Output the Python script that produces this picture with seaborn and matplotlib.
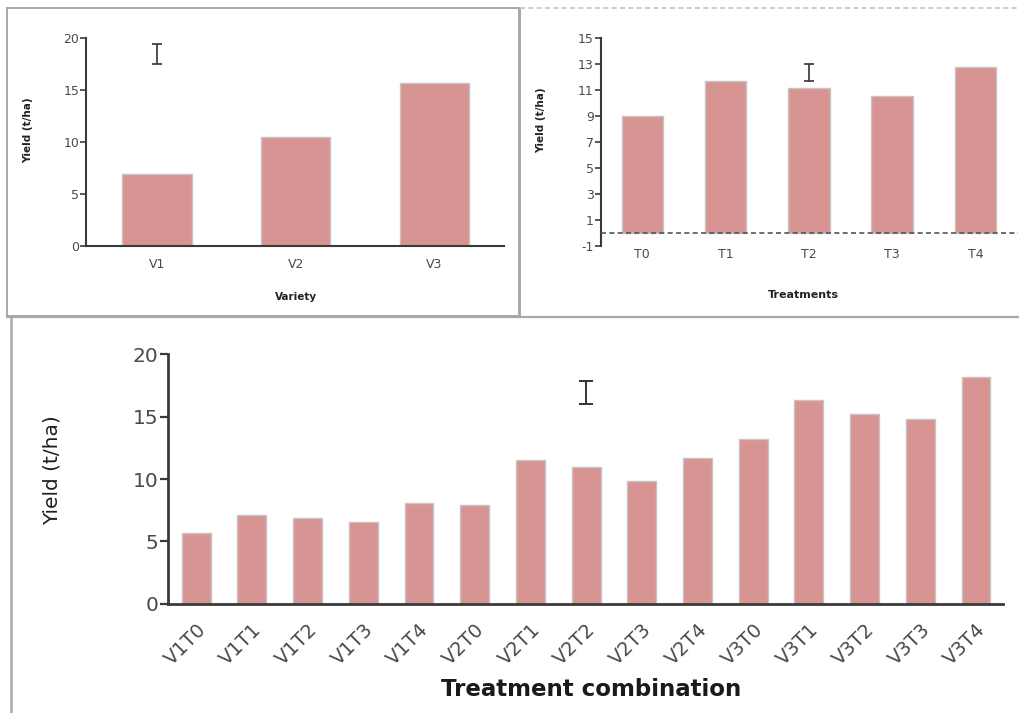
import matplotlib
matplotlib.use("Agg")
import matplotlib.pyplot as plt
from matplotlib.patches import Rectangle
from matplotlib.lines import Line2D
import seaborn as sns
import pandas as pd

# ---- data -------------------------------------------------------------
varieties = ["V1", "V2", "V3"]
variety_yield = [6.9, 10.45, 15.6]
variety_lsd_pos, variety_lsd_mid, variety_lsd_half = 0, 18.43, 0.93

treatments = ["T0", "T1", "T2", "T3", "T4"]
treatment_yield = [9.0, 11.7, 11.1, 10.5, 12.75]
treatment_lsd_pos, treatment_lsd_mid, treatment_lsd_half = 2, 12.31, 0.64

combos = ["V1T0", "V1T1", "V1T2", "V1T3", "V1T4",
          "V2T0", "V2T1", "V2T2", "V2T3", "V2T4",
          "V3T0", "V3T1", "V3T2", "V3T3", "V3T4"]
combo_yield = [5.7, 7.1, 6.9, 6.55, 8.1,
               7.9, 11.55, 10.95, 9.8, 11.7,
               13.2, 16.3, 15.25, 14.8, 18.2]
combo_lsd_pos, combo_lsd_mid, combo_lsd_half = 7, 16.95, 0.91

variety_ticks = [0, 5, 10, 15, 20]
treatment_ticks = [-1, 1, 3, 5, 7, 9, 11, 13, 15]
combo_ticks = [0, 5, 10, 15, 20]

# ---- style ------------------------------------------------------------
sns.set_theme(style="white")
plt.rcParams["font.family"] = ["DejaVu Sans"]
plt.rcParams["axes.unicode_minus"] = False

BAR = "#d89393"
EDGE = "#c9c3c3"
SPINE = "#3a3a3a"
TICKTXT = "#4a4a4a"
FRAME = "#a8a8a8"

W, H = 1019, 713
fig = plt.figure(figsize=(W / 100, H / 100), dpi=100)


def px_axes(x0, y_top, x1, y_bot):
    return fig.add_axes([x0 / W, 1 - y_bot / H, (x1 - x0) / W, (y_bot - y_top) / H])


def style_axes(ax, ticksize, ticklen, spine_w):
    for s in ("top", "right"):
        ax.spines[s].set_visible(False)
    for s in ("left", "bottom"):
        ax.spines[s].set_color(SPINE)
        ax.spines[s].set_linewidth(spine_w)
    ax.tick_params(axis="y", left=True, length=ticklen, width=spine_w * 0.8,
                   color=SPINE, labelsize=ticksize, labelcolor=TICKTXT, pad=1)
    ax.tick_params(axis="x", bottom=False, length=0, labelsize=ticksize,
                   labelcolor=TICKTXT)
    ax.set_xlabel("")
    ax.set_ylabel("")
    ax.set_facecolor("white")


# ---- panel frames -----------------------------------------------------
frame_kw = dict(transform=fig.transFigure, fill=False, lw=1.4, ec=FRAME, zorder=0)
fig.patches.append(Rectangle((7 / W, 1 - 316 / H), 512 / W, 308 / H, **frame_kw))
fig.lines.append(Line2D([520 / W, 520 / W], [1 - 316 / H, 1 - 8 / H],
                        transform=fig.transFigure, color=FRAME, lw=1.4))
fig.lines.append(Line2D([520 / W, 1.0], [1 - 8 / H, 1 - 8 / H],
                        transform=fig.transFigure, color="#c4c4c4", lw=1.2,
                        ls=(0, (3, 2))))
fig.lines.append(Line2D([7 / W, 1.0], [1 - 317 / H, 1 - 317 / H],
                        transform=fig.transFigure, color=FRAME, lw=1.6))
fig.lines.append(Line2D([11 / W, 11 / W], [0, 1 - 318 / H],
                        transform=fig.transFigure, color=FRAME, lw=1.8))

# ---- top-left: variety ------------------------------------------------
ax1 = px_axes(86, 37.7, 504, 245.7)
df1 = pd.DataFrame({"Variety": varieties, "Yield": variety_yield})
sns.barplot(data=df1, x="Variety", y="Yield", color=BAR, saturation=1,
            width=0.5, edgecolor=EDGE, linewidth=1, ax=ax1)
ax1.errorbar([variety_lsd_pos], [variety_lsd_mid], yerr=[variety_lsd_half],
             fmt="none", ecolor="#333333", elinewidth=1.2, capsize=3.5, capthick=1.2)
ax1.set_xlim(-0.51, 2.5)
ax1.set_ylim(0, 20)
ax1.set_yticks(variety_ticks)
style_axes(ax1, 9, 4, 1.5)
ax1.tick_params(axis="x", pad=9)
fig.text(28 / W, 1 - 130 / H, "Yield (t/ha)", rotation=90, ha="center",
         va="center", fontsize=7.5, fontweight="bold", color="#222222")
fig.text(296 / W, 1 - 297 / H, "Variety", ha="center", va="center",
         fontsize=7.5, fontweight="bold", color="#222222")

# ---- top-right: treatments -------------------------------------------
ax2 = px_axes(600.7, 37.7, 1018, 245.7)
df2 = pd.DataFrame({"Treatment": treatments, "Yield": treatment_yield})
sns.barplot(data=df2, x="Treatment", y="Yield", color=BAR, saturation=1,
            width=0.5, edgecolor=EDGE, linewidth=1, ax=ax2)
ax2.errorbar([treatment_lsd_pos], [treatment_lsd_mid], yerr=[treatment_lsd_half],
             fmt="none", ecolor="#333333", elinewidth=1.2, capsize=3.5, capthick=1.2)
ax2.axhline(0, color="#555555", lw=1.2, ls=(0, (3, 2)), zorder=3)
ax2.set_xlim(-0.5, 4.51)
ax2.set_ylim(-1, 15)
ax2.set_yticks(treatment_ticks)
style_axes(ax2, 9, 4, 1.5)
ax2.spines["bottom"].set_visible(False)
ax2.tick_params(axis="x", pad=2)
fig.text(541 / W, 1 - 120 / H, "Yield (t/ha)", rotation=90, ha="center",
         va="center", fontsize=7.5, fontweight="bold", color="#222222")
fig.text(803 / W, 1 - 295 / H, "Treatments", ha="center", va="center",
         fontsize=8, fontweight="bold", color="#222222")

# ---- bottom: treatment combinations ----------------------------------
ax3 = px_axes(168, 354.3, 1003.3, 603.7)
df3 = pd.DataFrame({"Combination": combos, "Yield": combo_yield})
sns.barplot(data=df3, x="Combination", y="Yield", color=BAR, saturation=1,
            width=0.52, edgecolor=EDGE, linewidth=1, ax=ax3)
ax3.errorbar([combo_lsd_pos], [combo_lsd_mid], yerr=[combo_lsd_half],
             fmt="none", ecolor="#333333", elinewidth=1.4, capsize=5, capthick=1.4)
ax3.set_xlim(-0.506, 14.49)
ax3.set_ylim(0, 20)
ax3.set_yticks(combo_ticks)
style_axes(ax3, 14.5, 6, 2.0)
ax3.set_xticks(range(len(combos)))
ax3.set_xticklabels(combos, rotation=45, ha="right", rotation_mode="anchor",
                    fontsize=14, color=TICKTXT)
ax3.tick_params(axis="x", pad=12)
fig.text(52 / W, 1 - 470 / H, "Yield (t/ha)", rotation=90, ha="center",
         va="center", fontsize=14.5, color="#1e1e1e")
fig.text(591 / W, 1 - 689 / H, "Treatment combination", ha="center",
         va="center", fontsize=16.5, fontweight="bold", color="#1a1a1a")

fig.savefig("out.png", dpi=100, facecolor="white")
